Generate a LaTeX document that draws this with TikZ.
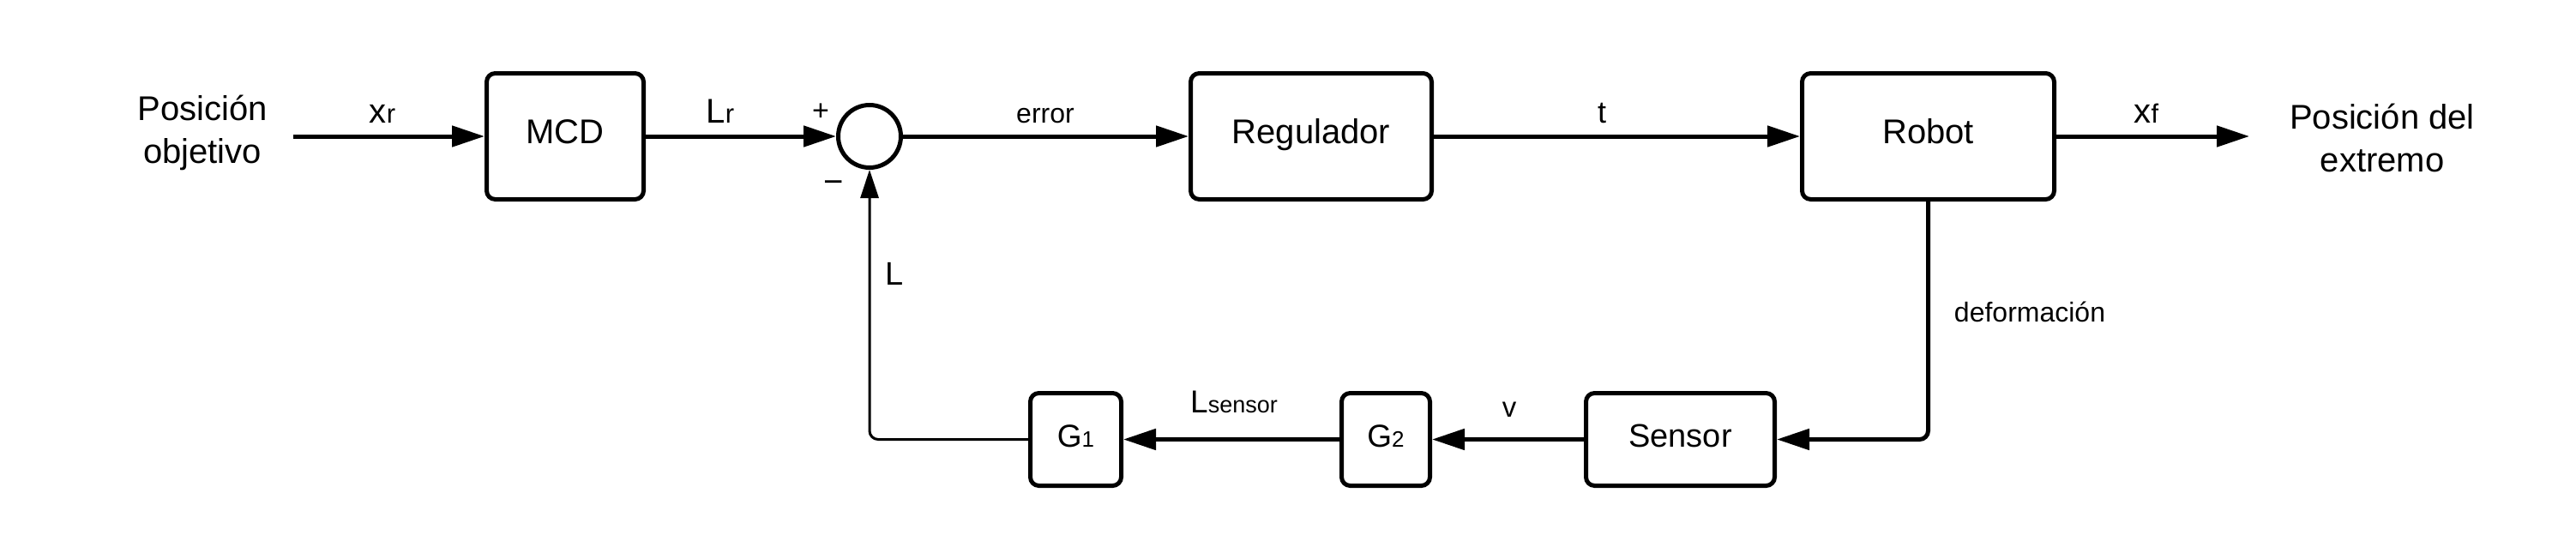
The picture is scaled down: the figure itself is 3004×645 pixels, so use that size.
\documentclass[tikz,border=0pt]{standalone}
\usepackage{fontspec}
\setmainfont{Liberation Sans}
\usetikzlibrary{arrows.meta}
\newcommand\myfs[2]{\fontsize{#1}{#2}\selectfont}
\tikzset{
  blk/.style={draw, line width=5pt, rounded corners=10pt, inner sep=0pt,
    font=\myfs{40pt}{46pt}, text height=30pt, text depth=13pt},
  gblk/.style={blk, font=\myfs{37pt}{40pt}, minimum width=105pt, minimum height=108pt},
  topblk/.style={blk, minimum height=147pt},
  sig/.style={line width=5pt, -{Triangle[length=38pt,width=24pt]}},
  fb/.style={line width=3pt, -{Triangle[length=33pt,width=21pt]}},
  lbl/.style={anchor=base, inner sep=0pt},
  bigtxt/.style={align=center, inner sep=0pt, font=\myfs{40pt}{50pt}}
}
\begin{document}
\begin{tikzpicture}[x=1pt,y=-1pt]
\useasboundingbox (0,0) rectangle (3004,645);
% blocks
\node[topblk, minimum width=183pt] (mcd) at (659,159) {MCD};
\node[draw, circle, line width=5pt, minimum size=73pt, inner sep=0pt] (sum) at (1014,159) {};
\node[topblk, minimum width=281pt] (reg) at (1529,159) {Regulador};
\node[topblk, minimum width=294pt] (rob) at (2248.5,159) {Robot};
\node[gblk, minimum width=106pt] (g1) at (1254.5,512.5) {G{\myfs{26pt}{28pt}1}};
\node[gblk, minimum width=103pt] (g2) at (1616,512.5) {G{\myfs{26pt}{28pt}2}};
\node[blk, font=\myfs{38pt}{44pt}, minimum width=220pt, minimum height=108pt] (sen) at (1959.5,512.5) {Sensor};
% free ends
\coordinate (in) at (342,159);
\coordinate (out) at (2623,159);
% texts
\node[bigtxt] (tin) at (236,155) {Posición\\objetivo};
\node[bigtxt] (tout) at (2778,161) {Posición del\\extremo};
% connectors
\draw[sig] (in) -- (mcd.west);
\draw[sig] (mcd.east) -- (sum.west);
\draw[sig] (sum.east) -- (reg.west);
\draw[sig] (reg.east) -- (rob.west);
\draw[sig] (rob.east) -- (out);
\draw[sig, rounded corners=10pt] (rob.south) -- (rob.south |- sen.east) -- (sen.east);
\draw[sig] (sen.west) -- (g2.east);
\draw[sig] (g2.west) -- (g1.east);
\draw[fb, rounded corners=10pt] (g1.west) -- (sum.south |- g1.west) -- (sum.south);
% labels
\node[lbl] (lxr) at (446,143) {\myfs{40pt}{44pt}x{\myfs{31pt}{34pt}r}};
\node[lbl] (llr) at (840,143) {\myfs{40pt}{44pt}L{\myfs{31pt}{34pt}r}};
\node[inner sep=0pt, font=\myfs{34pt}{38pt}] (plus) at (957,131) {+};
\node[inner sep=0pt, font=\myfs{40pt}{44pt}] (minus) at (972,218) {−};
\node[lbl, font=\myfs{32pt}{36pt}] (lerr) at (1219,143) {error};
\node[lbl, font=\myfs{36pt}{40pt}] (lt) at (1868,143) {t};
\node[lbl] (lxf) at (2503,143) {\myfs{40pt}{44pt}x{\myfs{31pt}{34pt}f}};
\node[lbl, font=\myfs{38pt}{42pt}] (ll) at (1043,332) {L};
\node[lbl, font=\myfs{32pt}{36pt}] (ldef) at (2367,375) {deformación};
\node[lbl] (lls) at (1439,481) {\myfs{37pt}{40pt}L{\myfs{27pt}{30pt}sensor}};
\node[lbl, font=\myfs{33pt}{36pt}] (lv) at (1760,486) {v};
\end{tikzpicture}
\end{document}
